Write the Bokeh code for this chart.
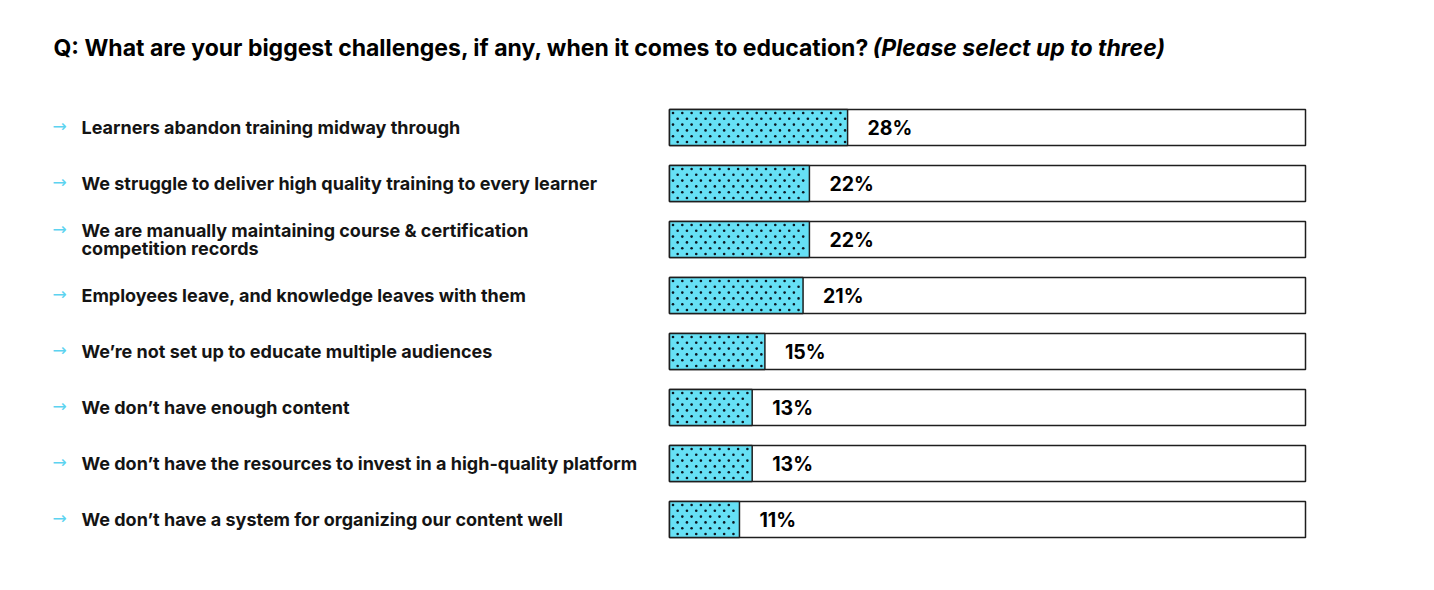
import numpy as np
from bokeh.plotting import figure
from bokeh.models import Range1d
from bokeh.core.properties import value
from bokeh.embed import file_html
from bokeh.resources import INLINE

# ---- data ----
categories = [
    "Learners abandon training midway through",
    "We struggle to deliver high quality training to every learner",
    "We are manually maintaining course & certification\ncompetition records",
    "Employees leave, and knowledge leaves with them",
    "We\u2019re not set up to educate multiple audiences",
    "We don\u2019t have enough content",
    "We don\u2019t have the resources to invest in a high-quality platform",
    "We don\u2019t have a system for organizing our content well",
]
percentages = [28, 22, 22, 21, 15, 13, 13, 11]
title_main = "Q: What are your biggest challenges, if any, when it comes to education?"
title_note = "(Please select up to three)"

# ---- layout (pixels) ----
W, H = 1418, 574
BAR_X0, BAR_X1 = 669, 1305      # px for 0% and 100%
ROW0, ROW_STEP = 127, 56         # px for first row centre, spacing
LINE_STEP = 18                   # px between lines of a wrapped label
BAR_H_PX = 36
PX_PER_UNIT = (BAR_X1 - BAR_X0) / 100.0

def xd(px):
    return (px - BAR_X0) / PX_PER_UNIT

def yd(px):
    return (px - ROW0) / ROW_STEP

p = figure(width=W, height=H, output_backend="svg", toolbar_location=None,
           x_range=Range1d(xd(0), xd(W)), y_range=Range1d(yd(H), yd(0)),
           min_border=0, x_axis_location=None, y_axis_location=None)
p.grid.visible = False
p.outline_line_color = None
p.background_fill_color = "white"
p.border_fill_color = "white"

rows = list(range(len(categories)))
bar_h = BAR_H_PX / ROW_STEP

# track
p.hbar(y=rows, left=0, right=[100] * len(rows), height=bar_h,
       fill_color="white", line_color="#1e1e1e", line_width=1.5)
# value bars
p.hbar(y=rows, left=0, right=percentages, height=bar_h,
       fill_color="#66E0F5", line_color=None)

# dotted texture inside each value bar (staggered grid, derived from each value)
DOT_DX, DOT_DY = 9.3, 5.8
dx_list, dy_list = [], []
for r, v in zip(rows, percentages):
    bar_w = v * PX_PER_UNIT
    for k, off in enumerate(np.arange(-2.5, 3.0, 1.0) * DOT_DY):
        start = 3.5 + (DOT_DX / 2 if k % 2 else 0)
        for xpx in np.arange(start, bar_w - 2, DOT_DX):
            dx_list.append(xpx / PX_PER_UNIT)
            dy_list.append(r + off / ROW_STEP)
p.scatter(x=dx_list, y=dy_list, marker="circle", size=2.6,
          fill_color="#0b1620", line_color=None)

# bar outlines
p.hbar(y=rows, left=0, right=percentages, height=bar_h,
       fill_color=None, line_color="#1e1e1e", line_width=1.5)

# value labels
p.text(x=percentages, y=rows, text=[f"{v}%" for v in percentages], x_offset=20,
       text_font=value("Inter"), text_font_style="bold", text_font_size="19.5px",
       text_baseline="middle", text_align="left", text_color="#000000")

# category labels (wrapped labels split into lines)
lx, ly, lt = [], [], []
for r, cat in zip(rows, categories):
    lines = cat.split("\n")
    n = len(lines)
    for k, line in enumerate(lines):
        lx.append(xd(81))
        ly.append(r + (k - (n - 1) / 2) * LINE_STEP / ROW_STEP)
        lt.append(line)
p.text(x=lx, y=ly, text=lt,
       text_font=value("Inter"), text_font_style="bold", text_font_size="18px",
       text_baseline="middle", text_align="left", text_color="#141414")
# arrows
p.text(x=[xd(52)] * len(rows), y=[r - 2 / ROW_STEP if n == 1 else r - 11 / ROW_STEP
                                   for r, n in zip(rows, [c.count("\n") + 1 for c in categories])],
       text=["\u2192"] * len(rows),
       text_font=value("DejaVu Sans"), text_font_size="17px",
       text_baseline="middle", text_align="left", text_color="#5CD3F0")

# title
p.text(x=[xd(53)], y=[yd(47)], text=[title_main],
       text_font=value("Inter"), text_font_style="bold", text_font_size="23px",
       text_baseline="middle", text_align="left", text_color="#000000")
p.text(x=[xd(872)], y=[yd(47)], text=[title_note],
       text_font=value("Inter"), text_font_style="bold italic", text_font_size="23px",
       text_baseline="middle", text_align="left", text_color="#000000")

open("out.html", "w").write(file_html(p, INLINE))
